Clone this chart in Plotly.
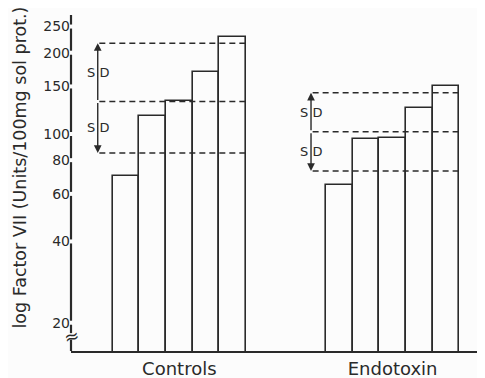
import math
import plotly.graph_objects as go

# ---- data ----
groups = ["Controls", "Endotoxin"]
controls_vals = [70, 117, 132, 170, 229]
endotoxin_vals = [65, 96, 97, 125, 151]
controls_x = [1, 2, 3, 4, 5]
endotoxin_x = [9, 10, 11, 12, 13]
# mean (centre dashed line), mean + SD, mean - SD
controls_stats = {"mean": 132, "upper": 217, "lower": 85}
endotoxin_stats = {"mean": 102, "upper": 142, "lower": 73}
ytick_vals = [20, 40, 60, 80, 100, 150, 200, 250]
ytick_text = ["20", "40", "60", "80", "100", "150", "200", "250"]
group_tick_x = [3, 11]

INK = "#2a2a2a"
BG = "#fcfcfc"
FONT = "DejaVu Sans"

YMIN_LOG, YMAX_LOG = 1.1963, 2.4407
XRANGE = [-1.063, 14.466]

fig = go.Figure()

# bars
for xs, vals in [(controls_x, controls_vals), (endotoxin_x, endotoxin_vals)]:
    fig.add_trace(go.Bar(
        x=xs, y=vals, width=1,
        marker=dict(color=BG, line=dict(color=INK, width=1.6)),
        showlegend=False, hoverinfo="skip"))

# dashed mean / SD lines and SD arrows
annotations = []
for xs, st in [(controls_x, controls_stats), (endotoxin_x, endotoxin_stats)]:
    arrow_x = xs[0] - 1.06
    x_end = xs[-1] + 0.5
    for key in ["upper", "mean", "lower"]:
        fig.add_trace(go.Scatter(
            x=[arrow_x + 0.06, x_end], y=[st[key], st[key]], mode="lines",
            line=dict(color=INK, width=1.5, dash="6px,4px"),
            showlegend=False, hoverinfo="skip"))
    for end in ["upper", "lower"]:
        annotations.append(dict(
            x=arrow_x, y=math.log10(st[end]), ax=arrow_x, ay=math.log10(st["mean"]),
            xref="x", yref="y", axref="x", ayref="y", text="",
            showarrow=True, arrowhead=2, arrowsize=1.1, arrowwidth=1.4,
            arrowcolor=INK, standoff=0, startstandoff=0))
        mid = (math.log10(st[end]) + math.log10(st["mean"])) / 2
        annotations.append(dict(
            x=arrow_x, y=mid, xref="x", yref="y", text="S D", showarrow=False,
            font=dict(family=FONT, size=13, color=INK), xanchor="center", yanchor="middle"))

# y-axis title
annotations.append(dict(
    x=0, y=0.546, xref="paper", yref="paper", xshift=-51, textangle=-90,
    text="log Factor VII (Units/100mg sol prot.)",
    showarrow=False, font=dict(family=FONT, size=17.5, color=INK),
    xanchor="center", yanchor="middle"))

# axis break symbol
break_lo, break_hi = 17.3, 18.3
annotations.append(dict(
    x=0, y=math.log10(math.sqrt(break_lo * break_hi)), xref="paper", yref="y",
    text="≈", showarrow=False, textangle=-15,
    font=dict(family=FONT, size=18, color=INK), xanchor="center", yanchor="middle"))

# y axis drawn in segments with small gaps at each tick
f = 10 ** (2 / 270)
bounds = [10 ** YMIN_LOG, break_lo, break_hi]
for t in ytick_vals:
    bounds += [t / f, t * f]
bounds.append(10 ** YMAX_LOG)
shapes = []
for i in range(0, len(bounds), 2):
    shapes.append(dict(type="line", xref="paper", yref="y", x0=0, x1=0,
                       y0=bounds[i], y1=bounds[i + 1],
                       line=dict(color=INK, width=2.2)))

# page body has an 8px default margin, so the figure is sized to fit the window
fig.update_layout(
    width=477, height=370,
    margin=dict(l=63, r=0, t=7, b=27),
    paper_bgcolor=BG, plot_bgcolor=BG,
    bargap=0, barmode="overlay",
    annotations=annotations, shapes=shapes,
    font=dict(family=FONT, color=INK),
    xaxis=dict(range=XRANGE, tickvals=group_tick_x, ticktext=groups,
               showgrid=False, zeroline=False, showline=True, linecolor=INK,
               linewidth=2.2, ticks="", automargin=False,
               tickfont=dict(family=FONT, size=18, color=INK)),
    yaxis=dict(type="log", range=[YMIN_LOG, YMAX_LOG], tickvals=ytick_vals,
               ticktext=ytick_text, showgrid=False, zeroline=False, showline=False,
               ticks="", automargin=False, tickfont=dict(family=FONT, size=14, color=INK)),
)

fig.write_html("out.html")
